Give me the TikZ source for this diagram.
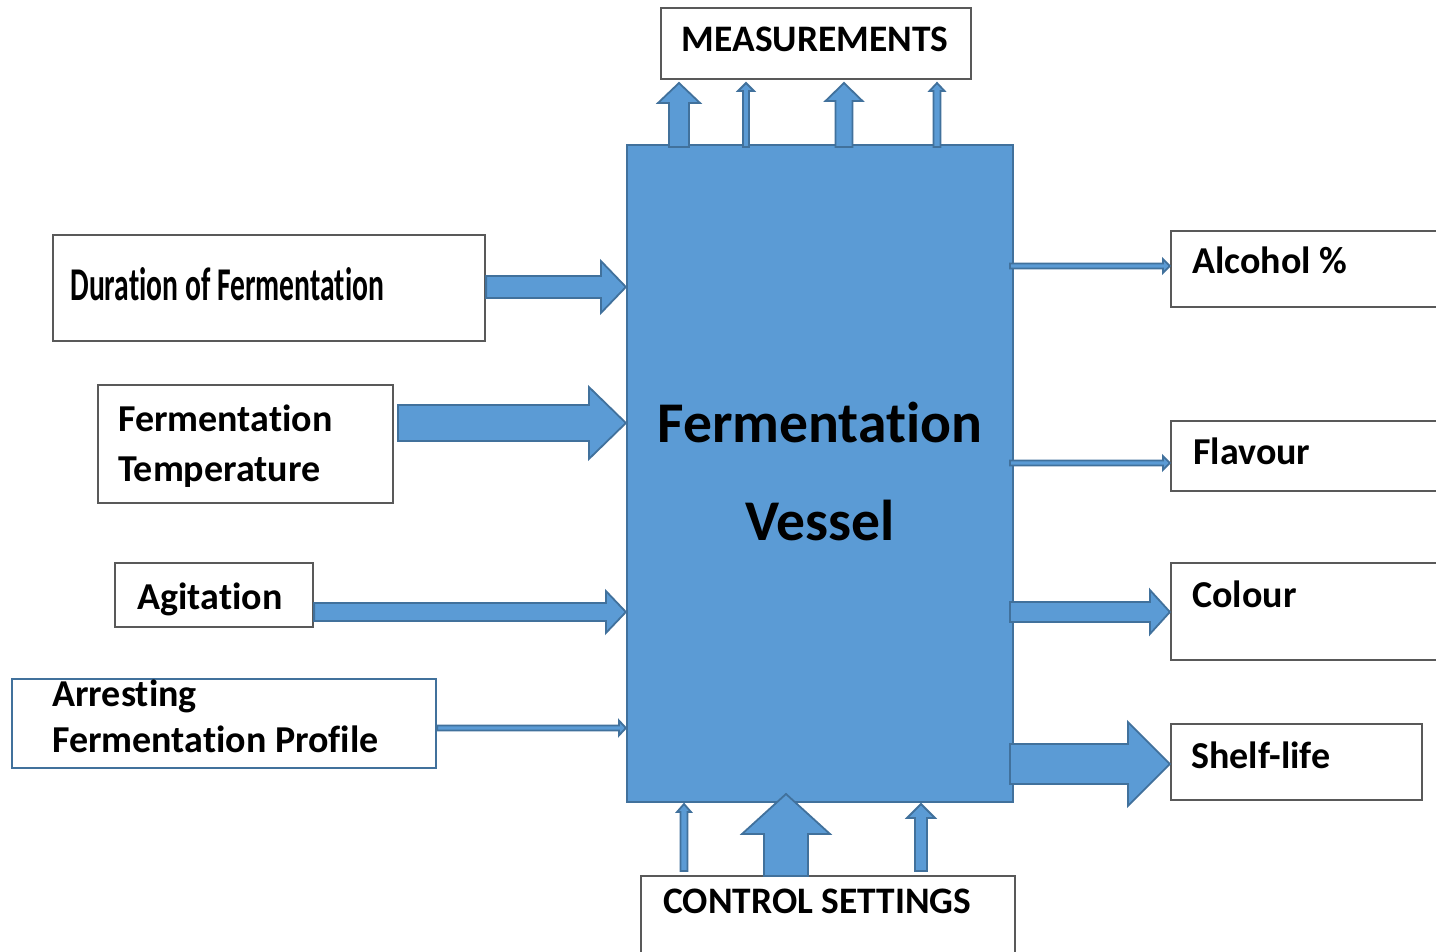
\documentclass[tikz,border=0pt]{standalone}
\usepackage{fontspec}
\usepackage{graphicx}
\setmainfont[Ligatures=NoCommon]{Carlito}
\usetikzlibrary{calc,fit}
\definecolor{vblue}{HTML}{5B9BD5}
\definecolor{vedge}{HTML}{41719C}
\definecolor{boxedge}{HTML}{595959}
% horizontal block arrow: start, tip, shaft half width, head half width, head length
\newcommand\harrow[5]{%
  \draw[blockarrow] ($(#1)+(0,-#3)$) -- ($(#2)+(-#5,-#3)$) -- ($(#2)+(-#5,-#4)$) -- (#2)
    -- ($(#2)+(-#5,#4)$) -- ($(#2)+(-#5,#3)$) -- ($(#1)+(0,#3)$) -- cycle;}
% vertical (upward) block arrow: start (bottom), tip (top), shaft half width, head half width, head length
\newcommand\varrow[5]{%
  \draw[blockarrow] ($(#1)+(-#3,0)$) -- ($(#2)+(-#3,#5)$) -- ($(#2)+(-#4,#5)$) -- (#2)
    -- ($(#2)+(#4,#5)$) -- ($(#2)+(#3,#5)$) -- ($(#1)+(#3,0)$) -- cycle;}
\tikzset{
  box/.style={draw=boxedge, line width=1.1pt, fill=white, inner sep=0pt},
  bluebox/.style={draw=vedge, line width=1.1pt, fill=white, inner sep=0pt},
  vesselbox/.style={draw=vedge, line width=1.1pt, fill=vblue, inner sep=0pt},
  blockarrow/.style={draw=vedge, line width=0.9pt, fill=vblue, line join=miter},
  lbl/.style={inner sep=0pt, anchor=base west, font=\bfseries\fontsize{19}{23}\selectfont},
  capslbl/.style={inner sep=0pt, anchor=base, font=\bfseries\fontsize{18.7}{22}\selectfont},
  biglbl/.style={inner sep=0pt, anchor=base, font=\bfseries\fontsize{28.8}{34}\selectfont},
}
\begin{document}
\begin{tikzpicture}[x=0.5pt,y=-0.5pt]
\useasboundingbox (0,0) rectangle (1436,952);
\clip (0,0) rectangle (1436,952);
\fill[white] (0,0) rectangle (1436,952);

% boxes
\node[vesselbox, fit={(627,145) (1013,802)}] (vessel) {};
\node[box, fit={(661,8) (971,79)}] (meas) {};
\node[box, fit={(53,235) (485,341)}] (dur) {};
\node[box, fit={(98,385) (393,503)}] (temp) {};
\node[box, fit={(115,563) (313,627)}] (agit) {};
\node[bluebox, fit={(12,679) (436,768)}] (arrest) {};
\node[box, fit={(1171,231) (1450,307)}] (alc) {};
\node[box, fit={(1171,421) (1450,491)}] (flav) {};
\node[box, fit={(1171,563) (1450,660)}] (col) {};
\node[box, fit={(1171,724) (1422,800)}] (shelf) {};
\node[box, fit={(641,876) (1015,970)}] (ctrl) {};

% texts
\node[capslbl] (tmeas) at (815,52) {MEASUREMENTS};
\node[inner sep=0pt, anchor=base west, font=\bfseries\fontsize{23.5}{28}\selectfont] (tdur) at (70,301) {\scalebox{0.63}[1]{Duration of Fermentation}};
\node[lbl] (ttemp1) at (118,431) {Fermentation};
\node[lbl] (ttemp2) at (118,481) {Temperature};
\node[lbl] (tagit) at (137,609) {Agitation};
\node[lbl] (tarr1) at (52,706) {Arresting};
\node[lbl] (tarr2) at (52,752) {Fermentation Profile};
\node[lbl] (talc) at (1192,274) {Alcohol \%};
\node[lbl] (tflav) at (1193,465) {Flavour};
\node[lbl] (tcol) at (1192,607) {Colour};
\node[lbl] (tshelf) at (1191,768) {Shelf-life};
\node[biglbl] (tv1) at (820,443) {Fermentation};
\node[biglbl] (tv2) at (820,540) {Vessel};
\node[capslbl, anchor=base west] (tctrl) at (663,913) {CONTROL SETTINGS};

% input arrows (left)
\coordinate (a1s) at (dur.east |- 0,287);   \coordinate (a1t) at (vessel.west |- a1s);
\coordinate (a2s) at (398,423);             \coordinate (a2t) at (vessel.west |- a2s);
\coordinate (a3s) at (agit.east |- 0,612);  \coordinate (a3t) at (vessel.west |- a3s);
\coordinate (a4s) at (arrest.east |- 0,728);\coordinate (a4t) at (vessel.west |- a4s);
\harrow{a1s}{a1t}{11}{26}{25}
\harrow{a2s}{a2t}{18}{36}{37}
\harrow{a3s}{a3t}{9}{21}{20}
\harrow{a4s}{a4t}{2.5}{7.5}{7}

% output arrows (right)
\coordinate (b1s) at (1010,266); \coordinate (b1t) at (alc.west |- b1s);
\coordinate (b2s) at (1010,463); \coordinate (b2t) at (flav.west |- b2s);
\coordinate (b3s) at (1010,612); \coordinate (b3t) at (col.west |- b3s);
\coordinate (b4s) at (1010,764); \coordinate (b4t) at (shelf.west |- b4s);
\harrow{b1s}{b1t}{2.5}{7}{7}
\harrow{b2s}{b2t}{2.5}{7}{7}
\harrow{b3s}{b3t}{10}{22}{20}
\harrow{b4s}{b4t}{20}{42}{42}

% measurement arrows (top)
\coordinate (m1s) at (679,147); \coordinate (m1t) at (m1s |- 0,83);
\coordinate (m2s) at (746,147); \coordinate (m2t) at (m2s |- 0,83);
\coordinate (m3s) at (844,147); \coordinate (m3t) at (m3s |- 0,83);
\coordinate (m4s) at (937,147); \coordinate (m4t) at (m4s |- 0,83);
\varrow{m1s}{m1t}{10}{21}{20}
\varrow{m2s}{m2t}{3}{8}{8}
\varrow{m3s}{m3t}{8.5}{18.5}{18}
\varrow{m4s}{m4t}{3.5}{7.5}{8}

% control arrows (bottom)
\coordinate (c1s) at (684,871); \coordinate (c1t) at (684,804);
\coordinate (c2s) at (786,876); \coordinate (c2t) at (786,794);
\coordinate (c3s) at (921,871); \coordinate (c3t) at (921,804);
\varrow{c1s}{c1t}{3.5}{7}{8}
\varrow{c2s}{c2t}{22}{44}{40}
\varrow{c3s}{c3t}{6}{14}{14}
\end{tikzpicture}
\end{document}
